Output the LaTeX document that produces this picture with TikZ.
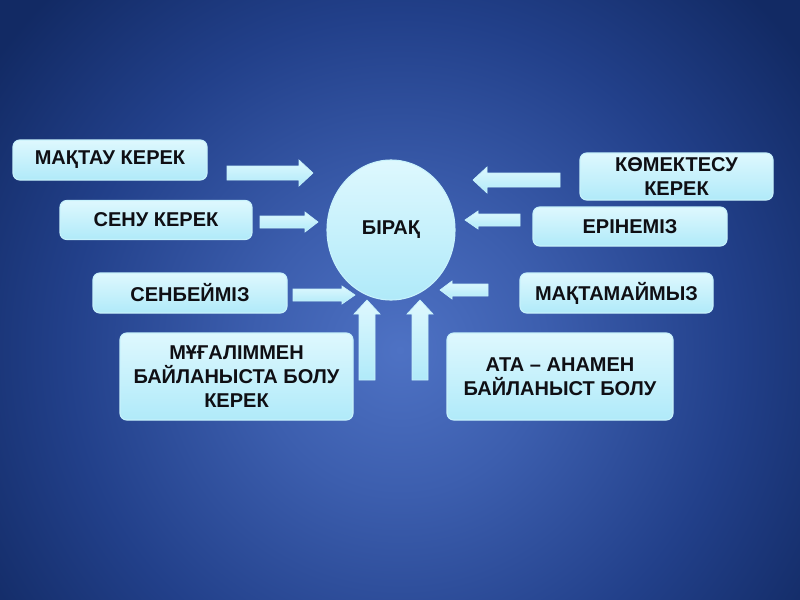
\documentclass[tikz,border=0pt]{standalone}
\usepackage{fontspec}
\setmainfont{Liberation Sans}
\usetikzlibrary{shapes.geometric}
\definecolor{bgin}{RGB}{78,114,196}
\definecolor{bgmid}{RGB}{60,94,174}
\definecolor{bgmid2}{RGB}{34,64,138}
\definecolor{bgout}{RGB}{18,42,100}
\definecolor{boxtop}{RGB}{222,248,254}
\definecolor{boxbot}{RGB}{176,234,249}
\definecolor{boxline}{RGB}{200,242,252}
\definecolor{txt}{RGB}{15,15,20}
\pgfdeclareradialshading{bgshade}{\pgfpoint{0bp}{0bp}}{color(0bp)=(bgin); color(7bp)=(bgmid); color(16bp)=(bgmid2); color(24bp)=(bgout); color(50bp)=(bgout)}
\tikzset{
  tbox/.style={draw=boxline, line width=0.8pt, rounded corners=5pt, top color=boxtop, bottom color=boxbot,
    font=\bfseries\fontsize{15pt}{18pt}\selectfont, text=txt, align=center, inner sep=0pt},
  barrowst/.style={draw=boxline, line width=0.5pt, top color=boxtop, bottom color=boxbot, line join=miter},
}
% horizontal block arrow: x1, head base x, tip x, y, shaft half, head half
\newcommand{\hblock}[7][]{\path[barrowst,#1] (#2,#5-#6) -- (#3,#5-#6) -- (#3,#5-#7) -- (#4,#5) -- (#3,#5+#7) -- (#3,#5+#6) -- (#2,#5+#6) -- cycle;}
% vertical block arrow: x, y bottom, head base y, tip y, shaft half, head half
\newcommand{\vblock}[7][]{\path[barrowst,#1] (#2-#6,#3) -- (#2-#6,#4) -- (#2-#7,#4) -- (#2,#5) -- (#2+#7,#4) -- (#2+#6,#4) -- (#2+#6,#3) -- cycle;}
\begin{document}
\begin{tikzpicture}[x=0.75pt,y=-0.75pt]
\useasboundingbox (0,0) rectangle (800,600);
\begin{scope}
\clip (0,0) rectangle (800,600);
\shade[shading=bgshade] (-120,-170) rectangle (920,870);
\end{scope}

% centre ellipse
\node[ellipse, draw=boxline, line width=0.8pt, top color=boxtop, bottom color=boxbot,
  minimum width=96pt, minimum height=105pt, inner sep=0pt,
  font=\bfseries\fontsize{15pt}{18pt}\selectfont, text=txt] (c) at (391,230) {БІРАҚ};

% boxes
\node[tbox, minimum width=145.5pt, minimum height=30pt] (b1) at (110,160) {МАҚТАУ КЕРЕК};
\node[tbox, minimum width=144pt, minimum height=29.25pt] (b2) at (156,220) {СЕНУ КЕРЕК};
\node[tbox, minimum width=145.5pt, minimum height=30pt] (b3) at (190,293) {СЕНБЕЙМІЗ};
\node[tbox, minimum width=174.75pt, minimum height=65.25pt] (b4) at (236.5,376.5) {МҰҒАЛІММЕН\\БАЙЛАНЫСТА БОЛУ\\КЕРЕК};
\node[tbox, minimum width=144.75pt, minimum height=35.25pt] (b5) at (676.5,176.5) {КӨМЕКТЕСУ\\КЕРЕК};
\node[tbox, minimum width=145.5pt, minimum height=29.25pt] (b6) at (630,226.5) {ЕРІНЕМІЗ};
\node[tbox, minimum width=144.75pt, minimum height=30pt] (b7) at (616.5,293) {МАҚТАМАЙМЫЗ};
\node[tbox, minimum width=169.5pt, minimum height=65.25pt] (b8) at (560,376.5) {АТА -- АНАМЕН\\БАЙЛАНЫСТ БОЛУ};

% block arrows
\hblock{227}{299}{313}{173}{7}{13}
\hblock{260}{305}{318}{222}{6}{10}
\hblock{293}{342}{355}{295}{6}{9}
\hblock{560}{487}{473}{180}{7}{13}
\hblock{520}{478}{465}{220}{6}{9}
\hblock{488}{452}{440}{290}{6}{9}
\vblock{367}{380}{314}{300}{8}{13}
\vblock{420}{380}{314}{300}{8}{13}
\end{tikzpicture}
\end{document}
